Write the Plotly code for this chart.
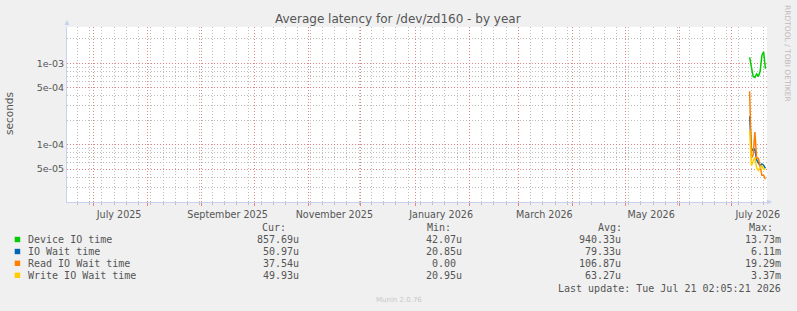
import plotly.graph_objects as go
from datetime import datetime, timedelta

# ---------------- data ----------------
dates = ["2026-07-11 04:00", "2026-07-12 04:00", "2026-07-13 04:00", "2026-07-14 04:00",
         "2026-07-15 04:00", "2026-07-16 04:00", "2026-07-17 04:00", "2026-07-18 04:00",
         "2026-07-19 04:00", "2026-07-20 04:00"]
device_io = [1.19e-3, 8.5e-4, 6.9e-4, 6.7e-4, 7.4e-4, 6.9e-4, 8.0e-4, 1.25e-3, 1.39e-3, 8.6e-4]
io_wait = [2.24e-4, 9.0e-5, 8.5e-5, 8.8e-5, 6.5e-5, 6.0e-5, 5.5e-5, 5.8e-5, 5.6e-5, 5.1e-5]
read_wait = [4.55e-4, 6.8e-5, 7.5e-5, 1.43e-4, 6.8e-5, 6.8e-5, 5.5e-5, 4.2e-5, 4.2e-5, 3.75e-5]
write_wait = [1.5e-4, 5.5e-5, 6.3e-5, 7.0e-5, 5.2e-5, 4.8e-5, 5.2e-5, 5.5e-5, 5.0e-5, 5.0e-5]

series_names = ["Device IO time", "IO Wait time", "Read IO Wait time", "Write IO Wait time"]
series_colors = ["#00CC00", "#0066B3", "#FF8000", "#FFCC00"]
cur_vals = ["857.69u", "50.97u", "37.54u", "49.93u"]
min_vals = ["42.07u", "20.85u", "0.00\u00a0", "20.95u"]
avg_vals = ["940.33u", "79.33u", "106.87u", "63.27u"]
max_vals = ["13.73m", "6.11m", "19.29m", "3.37m"]

y_tick_vals = [5e-5, 1e-4, 5e-4, 1e-3]
y_tick_text = ["5e-05", "1e-04", "5e-04", "1e-03"]

x_end = datetime(2026, 7, 21, 2, 5, 21)
x_start = x_end - timedelta(days=400)
month_starts = ["2025-07-01", "2025-08-01", "2025-09-01", "2025-10-01", "2025-11-01",
                "2025-12-01", "2026-01-01", "2026-02-01", "2026-03-01", "2026-04-01",
                "2026-05-01", "2026-06-01", "2026-07-01"]
month_labels = ["July 2025", "", "September 2025", "", "November 2025", "",
                "January 2026", "", "March 2026", "", "May 2026", "", "July 2026"]

# ---------------- layout geometry ----------------
W, H = 797, 311
PL, PR, PT, PB = 67, 767, 27, 202
PW, PH = PR - PL, PB - PT


def px(x):
    return (x - PL) / PW


def py(y):
    return (PB - y) / PH


TXT = "#555555"
MONO = "DejaVu Sans Mono"
SANS = "DejaVu Sans"
RED_GRID = "rgba(225,120,120,0.9)"
GRAY_GRID = "rgb(190,190,190)"
AXIS_COL = "#C9D1EE"
DASH = "1px,2px"

fig = go.Figure()
for name, vals, col in zip(series_names, [device_io, io_wait, read_wait, write_wait], series_colors):
    fig.add_trace(go.Scatter(x=dates, y=vals, mode="lines", name=name,
                             line=dict(color=col, width=1.5), showlegend=False))

minor_y = [k * 10.0 ** n for n in (-5, -4, -3) for k in (2, 3, 4, 6, 7, 8, 9)]

fig.update_layout(
    width=W, height=H,
    margin=dict(l=PL, r=W - PR, t=PT, b=H - PB, autoexpand=False),
    paper_bgcolor="#F0F0F0", plot_bgcolor="#FFFFFF",
    template="none",
    font=dict(family=SANS, color=TXT, size=10),
    xaxis=dict(
        type="date", range=[x_start, x_end], automargin=False,
        tickmode="array", tickvals=month_starts, ticktext=month_labels,
        ticklabelshift=26, ticks="outside", ticklen=3, tickcolor=RED_GRID,
        tickfont=dict(family=SANS, size=9.6, color=TXT),
        showgrid=True, gridcolor=RED_GRID, griddash=DASH, gridwidth=1,
        showline=True, linecolor=AXIS_COL, linewidth=1, zeroline=False,
        minor=dict(dtick=7 * 86400000, tick0="2025-06-22", showgrid=True,
                   gridcolor=GRAY_GRID, griddash=DASH, gridwidth=1,
                   ticks="outside", ticklen=2, tickcolor=GRAY_GRID),
    ),
    yaxis=dict(
        type="log", range=[-4.705, -2.552], automargin=False,
        tickmode="array", tickvals=y_tick_vals, ticktext=y_tick_text,
        ticks="", tickfont=dict(family=SANS, size=9.5, color=TXT),
        showgrid=True, gridcolor=RED_GRID, griddash=DASH, gridwidth=1,
        showline=True, linecolor=AXIS_COL, linewidth=1, zeroline=False,
        minor=dict(tickmode="array", tickvals=minor_y, showgrid=True,
                   gridcolor=GRAY_GRID, griddash=DASH, gridwidth=1),
    ),
)

ann = []


def text(x, y, s, anchor="left", size=10, family=MONO, color=TXT, angle=0):
    ann.append(dict(x=px(x), y=py(y), xref="paper", yref="paper", text=s,
                    showarrow=False, xanchor=anchor, yanchor="middle",
                    textangle=angle,
                    font=dict(family=family, size=size, color=color)))


# title and side texts
text(398.3, 19, "Average latency for /dev/zd160 - by year", anchor="center", size=12, family=SANS)
text(9, 114, "seconds", anchor="center", size=10.5, family=SANS, angle=-90)
text(787.5, 53.5, "RRDTOOL / TOBI OETIKER", anchor="center", size=7.5, family=SANS,
     color="#BBBBBB", angle=90)

# legend header
text(287.5, 227.3, "Cur:", anchor="right")
text(425, 227.3, "Min:")
text(596, 227.3, "Avg:")
text(746.7, 227.3, "Max:")

rows_y = [239.5, 251.5, 263.3, 275.3]
shapes = []
for i, yy in enumerate(rows_y):
    shapes.append(dict(type="rect", xref="paper", yref="paper",
                       x0=px(14.7), x1=px(20.2), y0=py(yy + 2.7), y1=py(yy - 2.7),
                       fillcolor=series_colors[i], line=dict(width=0)))
    text(26.3, yy, series_names[i])
    text(301, yy, cur_vals[i], anchor="right")
    text(463.5, yy, min_vals[i], anchor="right")
    text(622.5, yy, avg_vals[i], anchor="right")
    text(782.7, yy, max_vals[i], anchor="right")

text(782.7, 288, "Last update: Tue Jul 21 02:05:21 2026", anchor="right")
text(399, 300, "Munin 2.0.76", anchor="center", size=7, family=SANS, color="#C8C8C8")

# axis arrows
ann.append(dict(x=px(67), y=py(20), ax=0, ay=7, xref="paper", yref="paper",
                axref="pixel", ayref="pixel", showarrow=True, arrowhead=2, arrowsize=1,
                arrowwidth=1, arrowcolor=AXIS_COL, text=""))
ann.append(dict(x=px(772), y=py(202), ax=-6, ay=0, xref="paper", yref="paper",
                axref="pixel", ayref="pixel", showarrow=True, arrowhead=2, arrowsize=1,
                arrowwidth=1, arrowcolor=AXIS_COL, text=""))

fig.update_layout(annotations=ann, shapes=shapes)
fig.write_html("out.html")
